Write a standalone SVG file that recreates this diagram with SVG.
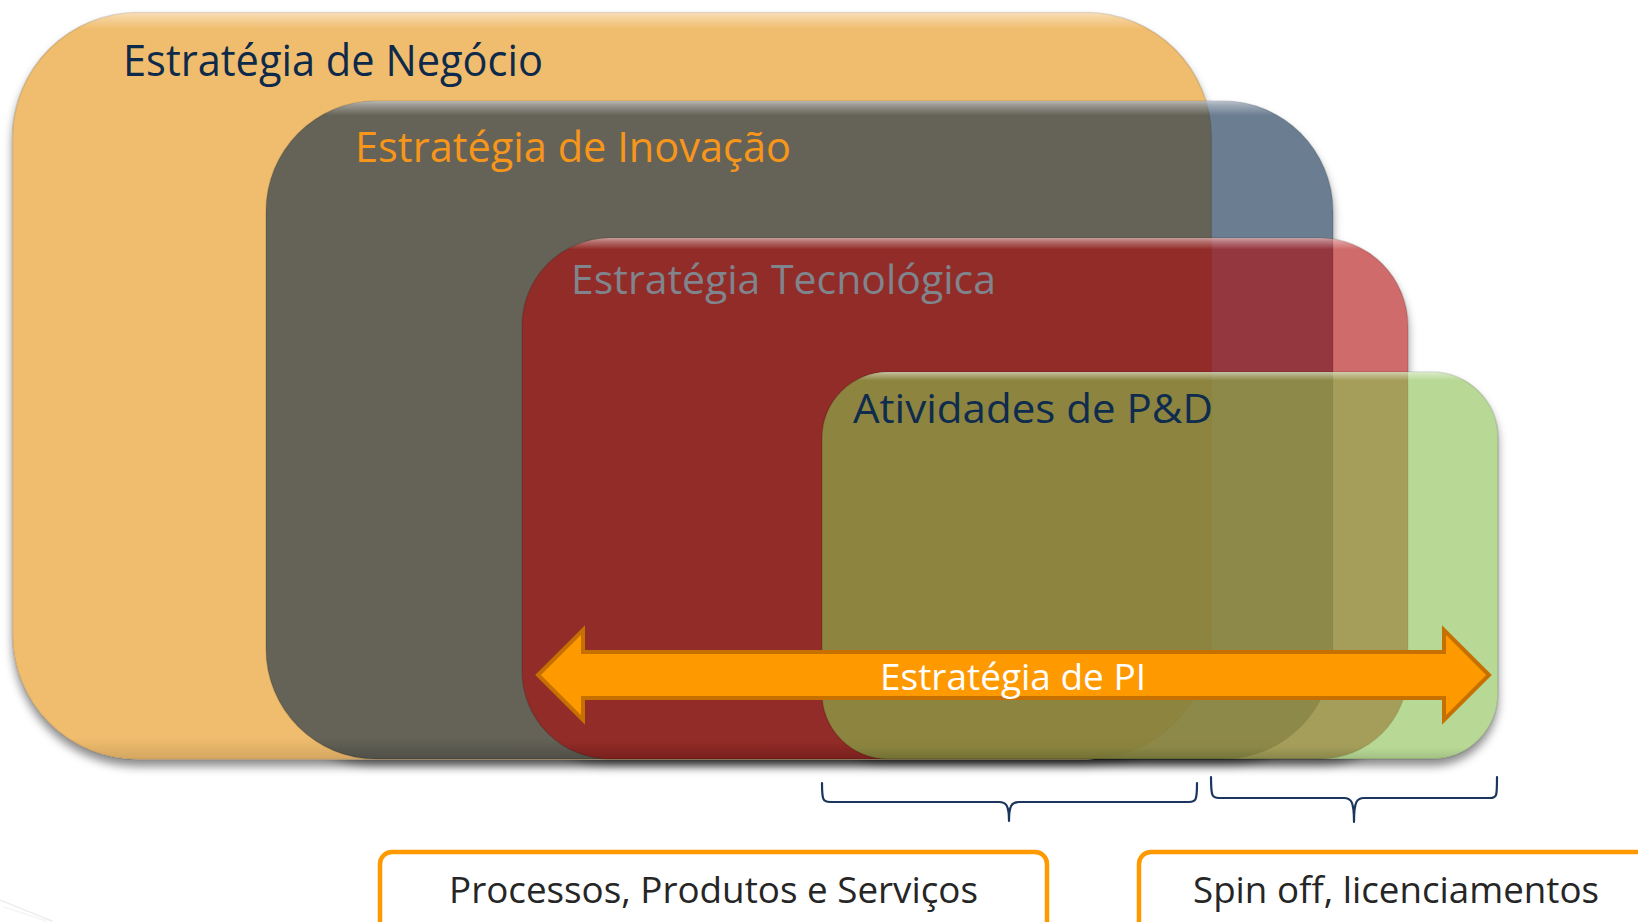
<svg xmlns="http://www.w3.org/2000/svg" xmlns:xlink="http://www.w3.org/1999/xlink" width="1638" height="922" viewBox="0 0 1638 922">
<style>
.t{font-family:"Open Sans","Liberation Sans",sans-serif;}
.shape{stroke:#000;stroke-opacity:0.12;stroke-width:1.5;}
.bevel{fill:url(#bevel);stroke:none;}
.brace{fill:none;stroke:#1B365D;stroke-width:2.2;stroke-linecap:round;stroke-linejoin:round;}
.box{fill:#fff;stroke:#FF9900;stroke-width:4.5;}
</style>
<defs>
<rect id="g-orange" x="12.5" y="12.5" width="1199" height="747" rx="125" ry="125"/>
<rect id="g-grey" x="266" y="101" width="1067" height="658" rx="110" ry="110"/>
<rect id="g-red" x="522" y="238" width="886" height="521" rx="88" ry="88"/>
<rect id="g-green" x="822" y="372" width="676" height="387" rx="66" ry="66"/>
<linearGradient id="bevel" x1="0" y1="0" x2="0" y2="1">
<stop offset="0" stop-color="#fff" stop-opacity="0.55"/>
<stop offset="0.006" stop-color="#fff" stop-opacity="0.35"/>
<stop offset="0.022" stop-color="#fff" stop-opacity="0"/>
<stop offset="0.97" stop-color="#000" stop-opacity="0"/>
<stop offset="1" stop-color="#000" stop-opacity="0.12"/>
</linearGradient>
<filter id="blur" x="-5%" y="-5%" width="110%" height="120%">
<feGaussianBlur stdDeviation="5"/>
</filter>
<mask id="outside" maskUnits="userSpaceOnUse" x="0" y="0" width="1638" height="922">
<rect x="0" y="0" width="1638" height="922" fill="#fff"/>
<use href="#g-orange" fill="#000"/>
<use href="#g-grey" fill="#000"/>
<use href="#g-red" fill="#000"/>
<use href="#g-green" fill="#000"/>
</mask>
</defs>

<rect x="0" y="0" width="1638" height="922" fill="#fff"/>

<g id="shadow" mask="url(#outside)">
<g filter="url(#blur)" transform="translate(0,7)" fill="#000" fill-opacity="0.45">
<use href="#g-orange"/>
<use href="#g-grey"/>
<use href="#g-red"/>
<use href="#g-green"/>
</g>
</g>

<g id="node-negocio">
<use href="#g-orange" class="shape" fill="#F0BD6E"/>
<use href="#g-orange" class="bevel"/>
<text class="t" x="123" y="76" font-size="43" fill="#0E2A4A" textLength="420" lengthAdjust="spacingAndGlyphs">Estratégia de Negócio</text>
</g>

<g id="node-inovacao">
<use href="#g-grey" class="shape" fill="#082648" fill-opacity="0.6"/>
<use href="#g-grey" class="bevel"/>
<text class="t" x="355" y="162" font-size="42" fill="#F7961A" textLength="436" lengthAdjust="spacingAndGlyphs">Estratégia de Inovação</text>
</g>

<g id="node-tecnologica">
<use href="#g-red" class="shape" fill="#B10808" fill-opacity="0.6"/>
<use href="#g-red" class="bevel"/>
<text class="t" x="571" y="294" font-size="41" fill="#80848C" textLength="425" lengthAdjust="spacingAndGlyphs">Estratégia Tecnológica</text>
</g>

<g id="node-pd">
<use href="#g-green" class="shape" fill="#89C04E" fill-opacity="0.6"/>
<use href="#g-green" class="bevel"/>
<text class="t" x="853" y="423" font-size="41" fill="#0F2B4E" textLength="360" lengthAdjust="spacingAndGlyphs">Atividades de P&amp;D</text>
</g>

<g id="node-pi">
<polygon points="538,675 583,630 583,652 1444,652 1444,630 1489,675 1444,720 1444,698 583,698 583,720" fill="#FF9900" stroke="#C57000" stroke-width="4" stroke-linejoin="miter"/>
<text class="t" x="880" y="690" font-size="37" fill="#fff" textLength="266" lengthAdjust="spacingAndGlyphs">Estratégia de PI</text>
</g>

<g id="connectors">
<path class="brace" d="M822,783 C822,800 823,802 830,802 L999,802 C1006,802 1009,805 1009,821 M1009,821 C1009,805 1012,802 1019,802 L1189,802 C1196,802 1197,800 1197,783"/>
<path class="brace" d="M1211,777 C1211,796 1212,798 1219,798 L1344,798 C1351,798 1354,801 1354,822 M1354,822 C1354,801 1357,798 1364,798 L1490,798 C1497,798 1497,796 1497,777"/>
</g>

<g id="node-processos">
<rect class="box" x="380" y="852" width="667" height="100" rx="12" ry="12"/>
<text class="t" x="449" y="903" font-size="37" fill="#262626" textLength="529" lengthAdjust="spacingAndGlyphs">Processos, Produtos e Serviços</text>
</g>

<g id="node-spinoff">
<rect class="box" x="1139" y="852" width="540" height="100" rx="12" ry="12"/>
<text class="t" x="1193" y="903" font-size="37" fill="#262626" textLength="406" lengthAdjust="spacingAndGlyphs">Spin off, licenciamentos</text>
</g>

<g id="swoosh" fill="none" stroke="#E6E6E6" stroke-width="1.6" stroke-linecap="round">
<path d="M0,900 Q24,910 52,921" stroke-opacity="0.7"/>
<path d="M4,907 Q26,914 46,921" stroke-opacity="0.4"/>
</g>
</svg>
